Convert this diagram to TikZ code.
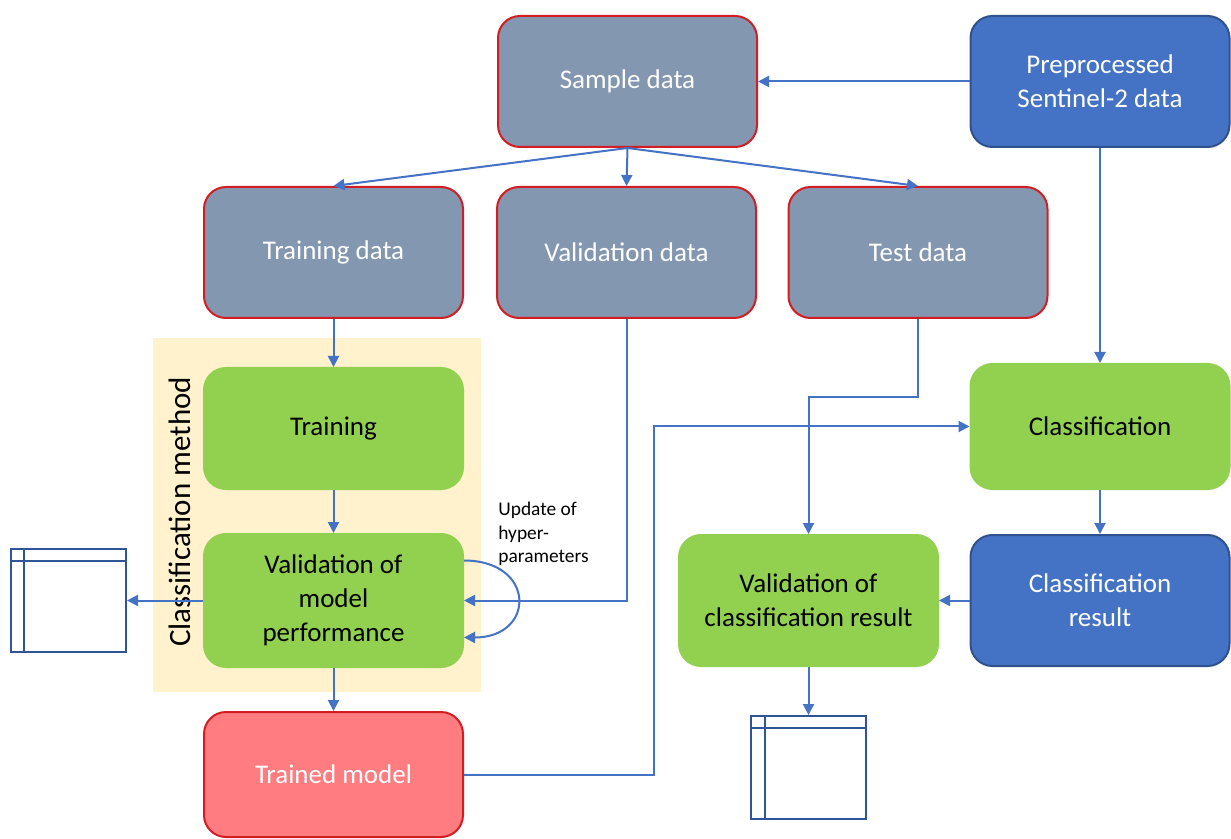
\documentclass[tikz,border=0pt]{standalone}
\usepackage{fontspec}
\setmainfont{Carlito}
\usetikzlibrary{arrows.meta,calc}
\definecolor{grayblue}{RGB}{132,151,176}
\definecolor{redline}{RGB}{210,30,35}
\definecolor{bluefill}{RGB}{68,114,196}
\definecolor{blueline}{RGB}{47,82,143}
\definecolor{greenfill}{RGB}{146,208,80}
\definecolor{pinkfill}{RGB}{255,124,128}
\definecolor{creamfill}{RGB}{255,242,204}
\definecolor{arrowblue}{RGB}{68,114,196}
\definecolor{tableblue}{RGB}{47,85,151}
\tikzset{
  box/.style={rounded corners=11pt, minimum width=129.5pt, minimum height=65.5pt,
    align=center, inner sep=2pt, line width=1pt,
    font=\fontsize{13.5}{17}\selectfont},
  graybox/.style={box, fill=grayblue, draw=redline, text=white},
  bluebox/.style={box, fill=bluefill, draw=blueline, text=white},
  greenbox/.style={box, fill=greenfill, draw=greenfill, text=black},
  pinkbox/.style={box, fill=pinkfill, draw=redline, text=white},
  tablebox/.style={draw=tableblue, line width=1pt, minimum width=57.5pt, minimum height=51.5pt, inner sep=0pt},
  conn/.style={draw=arrowblue, line width=1pt, -{Triangle[length=5.5pt,width=5.5pt]}},
  plain/.style={draw=arrowblue, line width=1pt}
}
\begin{document}
\begin{tikzpicture}[x=0.5pt,y=-0.5pt]
\useasboundingbox (0,0) rectangle (1231,839);
% background of classification method
\fill[creamfill] (153,338) rectangle (481,692);
\node[rotate=90, font=\fontsize{15.5}{18}\selectfont, text=black, inner sep=0pt] (cmlabel) at (180,512) {Classification method};

\node[graybox] (sample) at (627.5,81.5) {Sample data};
\node[bluebox] (pre) at (1100,81.5) {Preprocessed\\Sentinel-2 data};
\node[graybox] (traindata) at (333.5,252.5) {Training data};
\node[graybox] (valdata) at (626.5,252.5) {Validation data};
\node[graybox] (testdata) at (918,252.5) {Test data};
\node[greenbox, minimum height=60.5pt] (training) at (333.5,428.5) {Training};
\node[greenbox, minimum height=66.5pt] (valmodel) at (333.5,600.5) {Validation of\\model\\performance};
\node[pinkbox, minimum height=62.5pt] (trained) at (333.5,774.5) {Trained model};
\node[greenbox, minimum height=62.5pt] (classif) at (1100,426.5) {Classification};
\node[bluebox] (classres) at (1100,600.5) {Classification\\result};
\node[greenbox] (valclass) at (808.5,600.5) {Validation of\\classification result};

\node[tablebox] (tableL) at (68.5,600.5) {};
\draw[tableblue, line width=1pt] ($(tableL.north west)+(14,0)$) -- ($(tableL.south west)+(14,0)$);
\draw[tableblue, line width=1pt] ($(tableL.north west)+(0,13)$) -- ($(tableL.north east)+(0,13)$);
\node[tablebox] (tableB) at (808.5,767.5) {};
\draw[tableblue, line width=1pt] ($(tableB.north west)+(15,0)$) -- ($(tableB.south west)+(15,0)$);
\draw[tableblue, line width=1pt] ($(tableB.north west)+(0,13)$) -- ($(tableB.north east)+(0,13)$);

\node[anchor=north west, inner sep=0pt, align=left, font=\fontsize{9.7}{11.6}\selectfont] (hyper) at (498,502) {Update of\\hyper-\\parameters};

% connectors
\draw[conn] (pre.west) -- (sample.east);
\draw[conn] (sample.south) -- (traindata.north);
\draw[conn] (sample.south) -- (valdata.north);
\draw[conn] (sample.south) -- (testdata.north);
\draw[conn] (traindata.south) -- (training.north);
\draw[conn] (training.south) -- (valmodel.north);
\draw[conn] (valmodel.south) -- (trained.north);
\draw[conn] (valmodel.west) -- (tableL.east);
\draw[conn] (valdata.south) |- (valmodel.east);
\draw[conn] ($(valmodel.east)+(0,-40)$) .. controls ($(valmodel.east)+(72,-40)$) and ($(valmodel.east)+(72,37)$) .. ($(valmodel.east)+(0,37)$);
\draw[conn] (testdata.south) -- ++(0,78) -| (valclass.north);
\draw[conn] (trained.east) -- ++(190,0) |- (classif.west);
\draw[conn] (pre.south) -- (classif.north);
\draw[conn] (classif.south) -- (classres.north);
\draw[conn] (classres.west) -- (valclass.east);
\draw[conn] (valclass.south) -- (tableB.north);
\end{tikzpicture}
\end{document}
